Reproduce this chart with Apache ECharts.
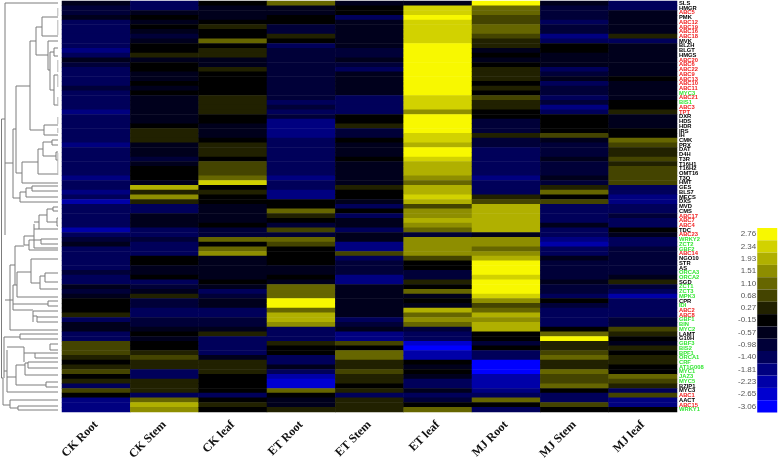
<!DOCTYPE html>
<html><head><meta charset="utf-8">
<style>html,body{margin:0;padding:0;background:#fff}#c{width:778px;height:460px}</style>
<script src="https://cdn.jsdelivr.net/npm/echarts@6/dist/echarts.min.js"></script>
</head><body><div id="c"></div>
<script>
const samples = ['CK Root','CK Stem','CK leaf','ET Root','ET Stem','ET leaf','MJ Root','MJ Stem','MJ leaf'];
const genes = ['SLS','HMGR','ABC5','PMK','ABC12','ABC19','ABC16','ABC18','MVK','BLZH','BLGT','HMGS','ABC20','ABC6','ABC22','ABC9','ABC13','ABC10','ABC11','MYC3','ABC21','BIS1','ABC3','TPT','DXR','HDS','HDR','IRS','IH','CMK','PRX','DAT','D4H','T3R','T16H1','T16H2','OMT16','T3O','HMT','GES','BLS7','MECS','DXS','MVD','CMS','ABC17','ABC7','ABC4','TDC','ABC23','WRKY2','ZCT2','GBF2','ABC14','NGO10','STR','AS','ORCA3','ORCA2','SGD','ZCT1','ZCT3','MPK3','CPR','IDI','ABC2','ABC8','GBF1','BIN','MYC2','LAMT','G10H','GBF3','BIS2','BPF1','ORCA1','CRF','AT1G008','MYC1','JAZ3','MYC5','BZIP1','MYC3','ABC1','AACT','ABC15','WRKY1'];
const redGenes = ['TPT'];
const greenRows = [19,21,50,51,52,57,58,60,61,62,64,67,68,69,72,73,74,75,76,77,78,79,80,86];
const legendValues = [2.76,2.34,1.93,1.51,1.10,0.68,0.27,-0.15,-0.57,-0.98,-1.40,-1.81,-2.23,-2.65,-3.06];
const legendColors = ['#F8F800','#D2D200','#B0B000','#8E8E00','#666600','#444400','#212100','#000000','#00001C','#000038','#00005A','#000080','#0000A8','#0000D0','#0000FF'];

// colour step for each gene: 7 = top legend cell, 0 = black, -7 = bottom cell
const ckRoot = [-1,-2,-2,-1,-3,-3,-3,-3,-3,-3,-4,-3,-1,-2,-3,-3,-3,-3,-2,-3,-3,-3,-3,-4,-3,-3,-3,-3,-3,-3,-4,-3,-3,-3,-3,-3,-3,-4,-3,-3,-4,-3,-5,-3,-3,-3,-3,-3,-5,-3,-2,-1,-3,-3,-3,-3,-3,-2,-3,-3,-1,-2,-1,0,0,0,1,-3,-1,-1,-3,-3,2,2,2,1,0,1,2,0,1,-3,2,0,-4,-4,-4];
const ckStem = [-3,-3,-1,0,-1,0,-1,-2,-1,0,0,1,-1,0,0,-1,-1,0,-1,0,-1,-1,-1,-1,-1,-1,0,1,1,1,-1,-1,-1,-2,-1,0,0,0,-1,5,1,4,1,-3,-3,-1,-1,-1,-3,-3,-2,-3,-3,-3,0,0,-1,-1,0,-3,-2,-1,1,-2,-2,-3,-3,-2,-2,-1,0,-1,0,0,1,2,1,1,-3,-3,1,1,1,-3,3,5,4];
const ckLeaf = [0,-1,-1,-1,0,1,0,0,3,0,1,1,-1,-1,1,0,0,0,0,0,1,1,1,1,0,0,-1,-1,-1,0,1,1,1,0,2,2,2,3,6,0,1,0,0,-1,-1,-1,-1,0,-2,-2,3,0,3,4,-1,-1,-1,-1,-1,0,-1,-3,-2,-1,-1,-3,-3,-2,-2,-1,1,-3,-3,-3,-3,-1,1,1,1,0,0,0,0,-3,0,1,0];
const etRoot = [3,-1,-1,0,0,-2,-2,1,0,-3,-2,-2,-2,-2,-2,-2,-2,-2,-2,-2,-2,-3,-2,-3,-2,-4,-4,-4,-4,-3,-3,-3,-3,-3,-3,-3,-3,-4,-3,-3,-4,-4,0,0,3,1,0,-2,2,-2,3,2,0,0,0,0,-1,-1,0,-1,3,3,3,7,7,3,5,5,4,-3,-3,-3,1,0,0,-3,-3,-1,-3,-5,-6,-6,3,0,-1,-1,1];
const etStem = [-1,0,0,-3,-1,-1,-1,-1,-1,-1,-2,-2,-1,-2,-3,-1,-1,-1,-1,-1,-3,-3,-3,-3,0,0,1,-2,-2,0,-1,-1,-1,0,-1,-1,-1,-1,-1,1,0,0,-1,-3,0,-3,-1,-1,-3,-1,-1,-4,-4,2,-3,-2,-2,-2,-4,-4,-1,-1,-1,-1,-1,-1,-1,-3,-2,-1,-4,-4,2,0,3,3,1,1,2,1,1,0,1,-3,1,1,1];
const etLeaf = [-1,6,6,7,6,6,6,6,6,7,7,7,7,7,7,7,7,7,7,7,6,6,6,4,7,7,7,7,6,6,5,7,7,6,5,5,5,4,3,5,5,6,5,2,4,4,5,4,3,-2,4,4,4,4,2,0,0,-2,-2,1,0,3,-1,0,-1,5,3,4,3,-2,-3,-3,-6,-7,-5,-5,0,-1,0,-1,-3,-3,-1,-3,-2,0,3];
const mjRoot = [7,3,3,2,2,3,3,2,1,1,-1,0,-1,0,1,1,1,0,1,0,2,1,1,0,0,-2,-2,-2,1,-2,-2,-3,-3,-3,-3,-3,-3,-4,-3,-3,-3,1,2,5,5,5,5,5,5,-1,4,4,3,4,5,7,7,7,6,7,7,7,6,4,2,3,5,4,5,5,0,0,-2,0,-3,-3,-7,-7,-7,-5,-5,-5,-4,-3,3,0,-3];
const mjStem = [-1,-2,-2,-2,-3,-2,-2,-4,-3,0,0,-1,-1,-1,-3,-2,-1,-3,-2,-2,-3,-2,-4,-3,0,0,0,0,2,-1,-2,-2,-2,-1,-2,-2,-2,-1,-2,1,3,0,2,-3,-3,-3,-3,-1,-3,-3,-4,-5,-3,-3,-1,-2,-2,-2,-2,-1,-2,-2,-3,0,-2,-3,-3,-3,-3,0,3,7,1,1,2,3,1,1,3,2,2,3,0,-3,-3,2,0];
const mjLeaf = [-3,-3,-1,-1,-1,-1,-1,1,-3,-1,-1,-1,-1,-1,-1,-1,0,-1,-1,-1,-1,0,0,1,-1,-1,-1,0,0,3,2,1,1,2,1,2,2,2,2,-3,-3,-4,-4,-3,-3,-2,-3,-3,0,-1,-3,-3,-2,-2,-2,-2,-2,-2,-1,1,-2,-3,-5,-3,-3,-3,-3,-2,-2,2,1,0,-1,1,0,1,1,0,0,3,2,1,-3,2,-4,-4,0];
const columns = [ckRoot,ckStem,ckLeaf,etRoot,etStem,etLeaf,mjRoot,mjStem,mjLeaf];

// dendrogram branches in (distance, vertical position) units of its own hidden axes
const vBranches = [[1.5,119,378],[5,3,235],[3,378,405],[13,129,198],[16,86,173],[30,41,130],[44,125,135],[36,27,55],[42,17,36],[48,41,70],[50,52,90],[54,48,56],[54,75,105],[22,162,183],[38,149,174],[43,142,156],[52,140,145],[56,152,160],[20,192,202],[26,188,197],[32,186,191],[39,215,229],[47,209,222],[53,207,211],[57,218,226],[34,224,248],[24,236,245],[29,240,250],[41,239,244],[15,246,285],[10,265,330],[17,272,297],[31,259,283],[40,276,289],[45,273,282],[13,285,310],[48,301,306],[33,311,322],[37,316,322],[4,337,378],[20,334,339],[7,350,392],[24,347,362],[50,344,350],[35,353,358],[16,365,385],[25,363,375],[28,362,368],[46,382,387],[10,400,408],[18,406,410]];
const hBranches = [[119,1.5,5],[3,5,58],[163,5,13],[129,13,16],[198,13,20],[86,16,30],[173,16,22],[130,30,44],[125,44,58],[135,44,58],[41,30,36],[27,36,42],[17,42,58],[36,42,58],[55,36,48],[41,48,58],[70,48,50],[52,50,54],[90,50,54],[48,54,58],[56,54,58],[75,54,58],[105,54,58],[183,22,58],[162,22,38],[174,38,58],[149,38,43],[142,43,52],[140,52,58],[145,52,58],[156,43,56],[152,56,58],[160,56,58],[192,20,26],[202,20,58],[188,26,32],[186,32,58],[191,32,58],[197,26,58],[215,39,47],[229,34,58],[209,47,53],[207,53,58],[211,53,58],[222,47,57],[218,57,58],[226,57,58],[236,24,34],[248,34,58],[222,34,39],[245,24,29],[240,29,41],[250,29,58],[239,41,58],[244,41,58],[246,15,24],[265,10,15],[285,13,17],[272,17,31],[297,17,58],[259,31,58],[283,31,40],[276,40,45],[273,45,58],[282,45,58],[289,40,58],[304,13,48],[301,48,58],[306,48,58],[310,13,33],[311,33,58],[316,33,37],[317,37,58],[322,37,58],[330,10,58],[300,5,13],[337,4,20],[334,20,58],[339,20,58],[371,4,7],[377,7,16],[347,7,24],[392,7,58],[344,50,58],[350,50,58],[353,24,35],[353,35,58],[358,35,58],[365,16,25],[385,16,46],[382,46,58],[387,46,58],[363,25,28],[362,28,58],[368,28,58],[375,25,58],[378,1.5,3],[405,3,10],[400,10,58],[408,10,18],[406,18,58],[410,18,58]];
const leafTicks = [[57.8,8,16],[57.8,20,35],[57.8,60,72],[57.8,75,87],[57.8,97,106],[57.8,117,124],[57.8,128,133],[57.8,153,175]];

const heatData = [];
columns.forEach((col, c) => col.forEach((step, r) => heatData.push([c, r, legendValues[7 - step]])));
const segs = [
  ...vBranches.map(b => [b[0], b[1], b[0], b[2]]),
  ...hBranches.map(b => [b[1], b[0], b[2], b[0]])
];
const tickSegs = leafTicks.map(b => [b[0], b[1], b[0], b[2]]);
function segRender(color, width) {
  return function (params, api) {
    const a = api.coord([api.value(0), api.value(1)]);
    const b = api.coord([api.value(2), api.value(3)]);
    return { type: 'line', silent: true,
      shape: { x1: a[0], y1: a[1], x2: b[0], y2: b[1] },
      style: { stroke: color, lineWidth: width } };
  };
}
const chart = echarts.init(document.getElementById('c'), null, { renderer: 'canvas' });
chart.setOption({
  animation: false,
  backgroundColor: '#fff',
  grid: [
    { left: 62, top: 1, width: 615, height: 411, outerBoundsMode: 'none' },
    { left: 0, top: 1, width: 58, height: 411, outerBoundsMode: 'none' }
  ],
  xAxis: [
    { type: 'category', gridIndex: 0, data: samples, position: 'bottom',
      axisLine: { show: false }, axisTick: { show: false }, splitLine: { show: false },
      axisLabel: { rotate: 45, margin: 11, interval: 0, color: '#111', fontFamily: 'Liberation Serif', fontWeight: 'bold', fontSize: 12, lineHeight: 22 } },
    { type: 'value', gridIndex: 1, min: 0, max: 58, show: false }
  ],
  yAxis: [
    { type: 'category', gridIndex: 0, data: genes, inverse: true, position: 'right',
      axisLine: { show: false }, axisTick: { show: false }, splitLine: { show: false },
      axisLabel: { interval: 0, margin: 2, fontFamily: 'Liberation Sans', fontWeight: 'bold', fontSize: 5.8, hideOverlap: false,
        color: (v, i) => greenRows.includes(i) ? '#33E633' : (v.startsWith('ABC') || redGenes.includes(v)) ? '#F02020' : '#000' } },
    { type: 'value', gridIndex: 1, min: 1, max: 412, inverse: true, show: false }
  ],
  visualMap: {
    type: 'piecewise', seriesIndex: 0, dimension: 2,
    orient: 'vertical', left: 738, top: 228, itemWidth: 20, itemHeight: 12.3, itemGap: 0, textGap: 1,
    hoverLink: false, selectedMode: false, padding: 0, itemSymbol: 'rect',
    textStyle: { color: '#555', fontFamily: 'Liberation Sans', fontSize: 8 },
    pieces: legendValues.map((v, i) => ({ value: v, label: v.toFixed(2), color: legendColors[i] }))
  },
  series: [
    { type: 'heatmap', xAxisIndex: 0, yAxisIndex: 0, data: heatData, progressive: 0, silent: true, itemStyle: { borderWidth: 0 } },
    { type: 'custom', xAxisIndex: 1, yAxisIndex: 1, data: segs, renderItem: segRender('#7c7c7c', 1), silent: true, clip: false, encode: { x: [0, 2], y: [1, 3] } },
    { type: 'custom', xAxisIndex: 1, yAxisIndex: 1, data: tickSegs, renderItem: segRender('#b5b5b5', 1), silent: true, clip: false, encode: { x: [0, 2], y: [1, 3] } }
  ]
});
</script></body></html>
